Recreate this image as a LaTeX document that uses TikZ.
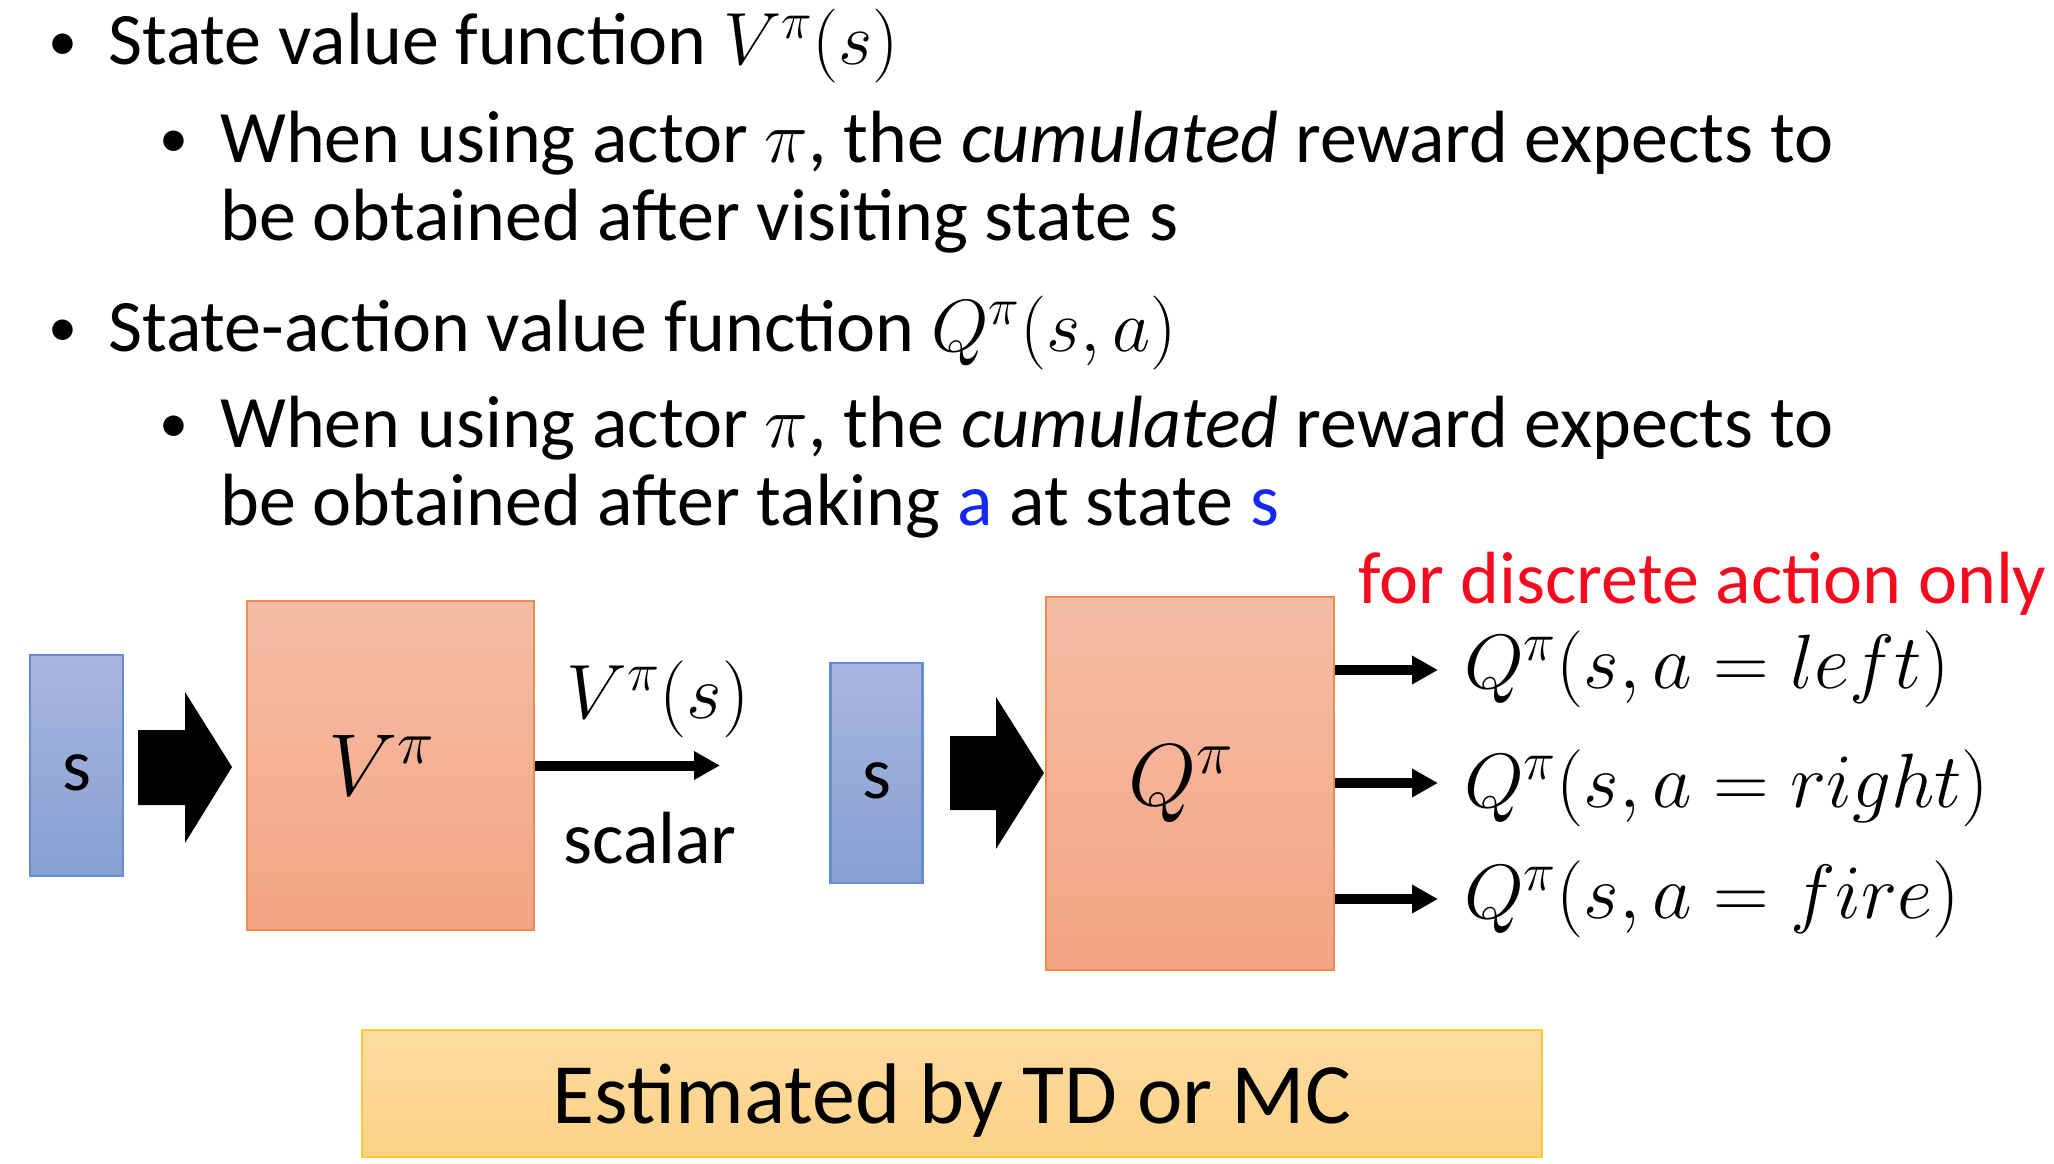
\RequirePackage{fix-cm}
\documentclass[tikz,border=0pt]{standalone}
\usepackage{fontspec}
\setmainfont{Carlito}
\usetikzlibrary{arrows.meta}
\definecolor{sblueT}{RGB}{169,182,222}
\definecolor{sblueB}{RGB}{134,159,211}
\definecolor{sblueD}{RGB}{100,140,214}
\definecolor{orT}{RGB}{245,189,166}
\definecolor{orB}{RGB}{244,165,132}
\definecolor{orD}{RGB}{240,138,80}
\definecolor{yeT}{RGB}{253,219,160}
\definecolor{yeB}{RGB}{253,210,134}
\definecolor{yeD}{RGB}{255,200,60}
\definecolor{txtblue}{RGB}{20,40,245}
\definecolor{txtred}{RGB}{245,10,30}
\begin{document}
\begin{tikzpicture}[x=1pt,y=-1pt,
  body/.style={anchor=base west, inner sep=0pt, font={\fontsize{74}{88}\selectfont}},
  bul/.style={anchor=base, inner sep=0pt, font={\fontsize{58}{70}\selectfont}},
  sbox/.style={draw=sblueD, line width=2.5pt, top color=sblueT, bottom color=sblueB,
    minimum width=92pt, minimum height=220pt, inner sep=0pt, text height=50pt, text depth=0pt,
    font={\fontsize{74}{88}\selectfont}},
  fbox/.style={draw=orD, line width=2.5pt, top color=orT, bottom color=orB, inner sep=0pt},
  fboxlbl/.style={inner sep=0pt, font={\fontsize{88}{100}\selectfont}},
  outarrow/.style={line width=10pt, -{Triangle[length=26pt,width=27pt]}},
  blockarrow/.style={fill=black},
  mathlbl/.style={anchor=base west, inner sep=0pt, font={\fontsize{77}{90}\selectfont}}
]
\useasboundingbox (0,0) rectangle (2054,1164);
% bullet text
\node[bul] (b1) at (63,60) {•};
\node[body] (t1) at (108,65) {State value function $V^{\pi}(s)$};
\node[bul] (b2) at (174,157) {•};
\node[body] (t2) at (220,162) {When using actor $\pi$, the \textit{cumulated} reward expects to};
\node[body] (t3) at (220,240) {be obtained after visiting state s};
\node[bul] (b3) at (63,346) {•};
\node[body] (t4) at (108,351) {State-action value function $Q^{\pi}(s,a)$};
\node[bul] (b4) at (174,442) {•};
\node[body] (t5) at (220,447) {When using actor $\pi$, the \textit{cumulated} reward expects to};
\node[body] (t6) at (220,525) {be obtained after taking \textcolor{txtblue}{a} at state \textcolor{txtblue}{s}};
% left diagram
\node[sbox, minimum height=221pt, minimum width=93pt] (s1) at (76.5,765.5) {s};
\node[fbox, minimum width=287pt, minimum height=329pt] (V) at (390.5,765.5) {};
\node[fboxlbl] (Vlbl) at ([xshift=-9pt]V.center) {$V^{\pi}$};
\fill[blockarrow] (138,730) -- (185,730) -- (185,692) -- (232,767) -- (185,843) -- (185,805) -- (138,805) -- cycle;
\coordinate (vend) at (720,765.5);
\draw[outarrow] (V.east) -- (vend);
\node[anchor=base, inner sep=0pt, font={\fontsize{77}{90}\selectfont}] (vlab) at (658,718) {$V^{\pi}(s)$};
\node[anchor=base, inner sep=0pt, font={\fontsize{74}{88}\selectfont}] (scalar) at (650,863) {scalar};
% right diagram
\node[sbox, minimum height=220pt, minimum width=92pt] (s2) at (876.5,773) {s};
\node[fbox, minimum width=288pt, minimum height=373pt] (Q) at (1190,783.5) {};
\node[fboxlbl] (Qlbl) at ([xshift=-9pt]Q.center) {$Q^{\pi}$};
\fill[blockarrow] (950,736) -- (996,736) -- (996,697) -- (1044,773) -- (996,849) -- (996,810) -- (950,810) -- cycle;
\node[anchor=base west, inner sep=0pt, text=txtred, font={\fontsize{74}{88}\selectfont}] (disc) at (1358,603) {for discrete action only};
\coordinate (qe1) at (1438,670);
\coordinate (qe2) at (1438,783);
\coordinate (qe3) at (1438,899);
\draw[outarrow] (Q.east |- qe1) -- (qe1);
\draw[outarrow] (Q.east |- qe2) -- (qe2);
\draw[outarrow] (Q.east |- qe3) -- (qe3);
\node[mathlbl] (q1) at (1464,688) {$Q^{\pi}(s,a=left)$};
\node[mathlbl] (q2) at (1464,807) {$Q^{\pi}(s,a=right)$};
\node[mathlbl] (q3) at (1464,918) {$Q^{\pi}(s,a=fire)$};
% bottom box
\node[draw=yeD, line width=2.5pt, top color=yeT, bottom color=yeB, minimum width=1180pt, minimum height=127pt, inner sep=0pt] (est) at (952,1093.5) {};
\node[anchor=base, inner sep=0pt, font={\fontsize{86}{100}\selectfont}] (esttxt) at (est.center |- 0,1123) {Estimated by TD or MC};
\end{tikzpicture}
\end{document}
